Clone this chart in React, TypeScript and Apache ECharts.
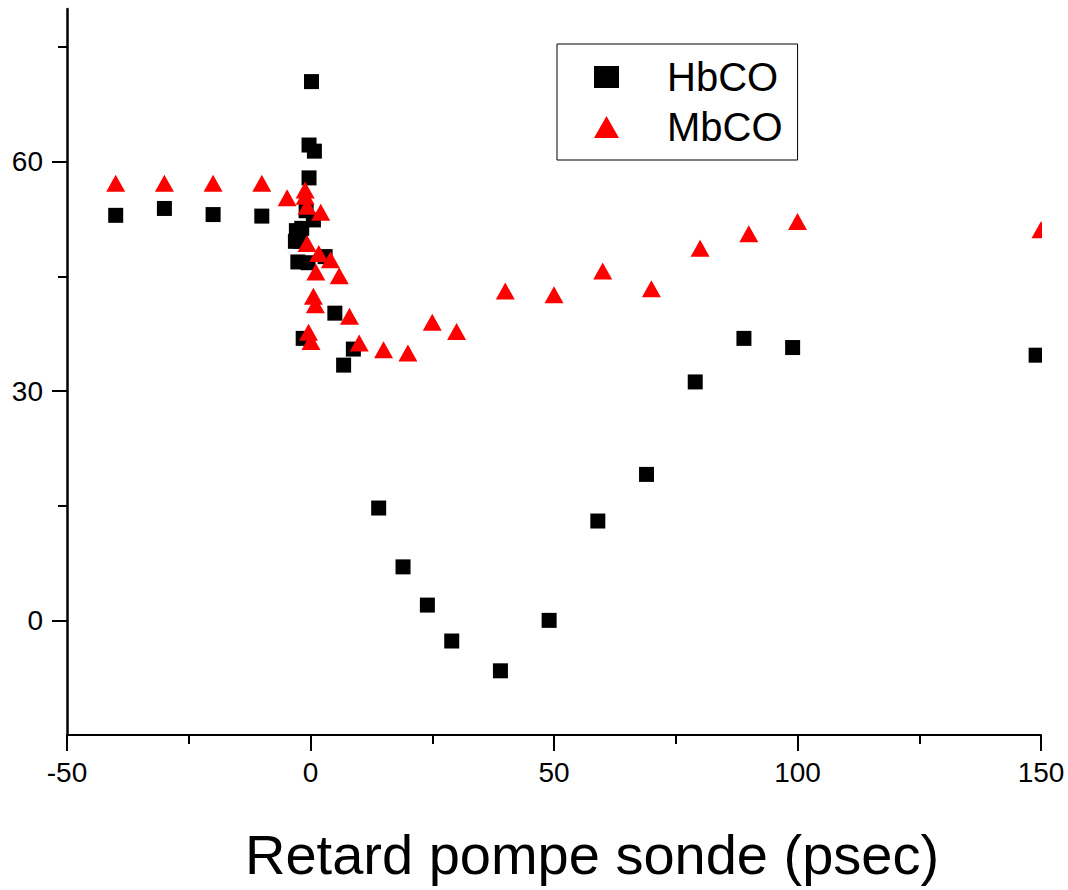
import React, { useEffect, useRef } from "react";
import * as echarts from "echarts";

// HbCO (black squares): pump-probe delay (psec) and signal
const hbcoDelay = [-40, -30, -20, -10, 0.2, -0.3, 0.8, -0.3, -0.9, 0.6, -2.9, -1.8, -3.1, -2.1, -2.6, -0.5, 3, 5, -1.5, 8.8, 6.8, 14, 19, 24, 29, 39, 49, 59, 69, 79, 89, 99, 149];
const hbcoSignal = [53.0, 53.9, 53.1, 52.9, 70.5, 62.2, 61.4, 57.9, 53.6, 52.4, 51.0, 51.3, 49.6, 49.6, 46.9, 46.8, 47.6, 40.2, 36.9, 35.5, 33.4, 14.7, 7.0, 2.0, -2.7, -6.6, 0.0, 13.0, 19.1, 31.2, 36.9, 35.7, 34.7];

// MbCO (red triangles)
const mbcoDelay = [-40, -30, -20, -10, -4.8, -1.1, -1.1, -0.7, 2.1, -0.7, 1.7, 4.1, 1.1, 5.9, 0.6, 1.0, 8.0, -0.4, 0.1, 10, 15, 20, 25, 30, 40, 50, 60, 70, 80, 90, 100, 150];
const mbcoSignal = [57.2, 57.2, 57.2, 57.2, 55.3, 56.3, 55.5, 54.2, 53.4, 49.3, 48.0, 47.2, 45.6, 45.1, 42.4, 41.3, 39.8, 37.7, 36.5, 36.3, 35.4, 35.0, 39.0, 37.8, 43.1, 42.6, 45.7, 43.4, 48.7, 50.6, 52.2, 51.1];

const xMajorTicks = [-50, 0, 50, 100, 150];
const xMinorTicks = [-25, 25, 75, 125];
const yMajorTicks = [0, 30, 60];
const yMinorTicks = [15, 45, 75];
const seriesNames = ["HbCO", "MbCO"];
const seriesIcons = ["rect", "triangle"];
const axisTitle = "Retard pompe sonde (psec)";

export default function App() {
  const ref = useRef<HTMLDivElement>(null);
  useEffect(() => {
    const chart = echarts.init(ref.current!, null, { renderer: "svg" });
    const font = "'Liberation Sans', Arial, Helvetica, sans-serif";
    const black = "#000";
    const xBase = { type: "value", min: -50, max: 150, position: "bottom", splitLine: { show: false } };
    const yBase = { type: "value", min: -15, max: 80, position: "left", offset: 0, splitLine: { show: false } };
    chart.setOption({
      animation: false,
      backgroundColor: "#fff",
      grid: { left: 67, right: 27, top: 9, bottom: 155 },
      xAxis: [
        {
          ...xBase,
          axisLine: { show: true, onZero: false, lineStyle: { color: black, width: 2 } },
          axisTick: { show: true, customValues: xMajorTicks, length: 16, lineStyle: { color: black, width: 2 } },
          axisLabel: { customValues: xMajorTicks, fontSize: 28, color: black, fontFamily: font, margin: 23 },
        },
        {
          ...xBase,
          axisLine: { show: false, onZero: false },
          axisTick: { show: true, customValues: xMinorTicks, length: 9, lineStyle: { color: black, width: 2 } },
          axisLabel: { show: false },
        },
      ],
      yAxis: [
        {
          ...yBase,
          axisLine: { show: true, onZero: false, lineStyle: { color: black, width: 2.5 } },
          axisTick: { show: true, customValues: yMajorTicks, length: 15, lineStyle: { color: black, width: 2 } },
          axisLabel: { customValues: yMajorTicks, fontSize: 28, color: black, fontFamily: font, margin: 24 },
        },
        {
          ...yBase,
          axisLine: { show: false, onZero: false },
          axisTick: { show: true, customValues: yMinorTicks, length: 9, lineStyle: { color: black, width: 2 } },
          axisLabel: { show: false },
        },
      ],
      legend: {
        orient: "vertical",
        left: 557,
        top: 44,
        padding: [13, 15, 13, 37],
        itemWidth: 25,
        itemHeight: 22,
        itemGap: 10,
        borderColor: black,
        borderWidth: 1,
        backgroundColor: "#fff",
        itemStyle: { opacity: 1 },
        textStyle: { fontSize: 40, color: black, fontFamily: font, lineHeight: 40, padding: [0, 0, 0, 43] },
        data: seriesNames.map((name, i) => ({ name, icon: seriesIcons[i] })),
      },
      series: [
        {
          name: seriesNames[0],
          type: "scatter",
          data: hbcoDelay.map((x, i) => [x, hbcoSignal[i]]),
          symbol: seriesIcons[0],
          symbolSize: 15,
          itemStyle: { color: black, opacity: 1 },
          emphasis: { disabled: true },
          z: 2,
        },
        {
          name: seriesNames[1],
          type: "scatter",
          data: mbcoDelay.map((x, i) => [x, mbcoSignal[i]]),
          symbol: seriesIcons[1],
          symbolSize: [19, 17],
          itemStyle: { color: "#ff0000", opacity: 1 },
          emphasis: { disabled: true },
          z: 3,
        },
      ],
      graphic: [
        {
          type: "text",
          left: 245,
          top: 826,
          style: { text: axisTitle, font: `56px ${font}`, fill: black },
        },
        {
          type: "rect",
          left: 1042,
          top: 0,
          shape: { width: 30, height: 700 },
          style: { fill: "#fff" },
          z: 100,
          zlevel: 0,
        },
      ],
    });
    return () => chart.dispose();
  }, []);
  return <div ref={ref} style={{ position: "absolute", left: 0, top: 0, width: 1068, height: 890 }} />;
}
